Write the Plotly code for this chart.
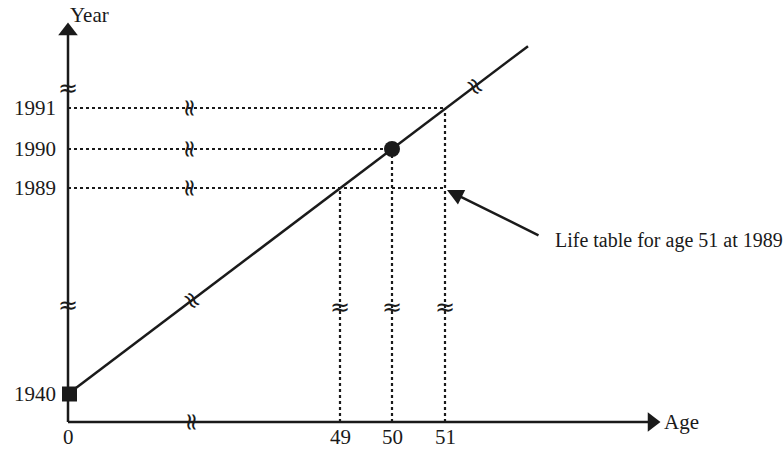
import plotly.graph_objects as go

# Schematic (broken-axis) positions in diagram units
ages = ["0", "49", "50", "51"]
age_pos = [0, 272, 324, 377]
years = ["1940", "1989", "1990", "1991"]
year_pos = [28, 234, 273, 314]
x_axis_end = 590
y_axis_end = 397
cohort_end_x = 460
note_text = "Life table for age 51 at 1989"

FONT = "Liberation Serif, Times New Roman, serif"
BLACK = "#1a1a1a"

fig = go.Figure()

# Axes
fig.add_trace(go.Scatter(x=[0, x_axis_end - 8], y=[0, 0], mode="lines",
                         line=dict(color=BLACK, width=2.5), hoverinfo="skip"))
fig.add_trace(go.Scatter(x=[0, 0], y=[0, y_axis_end - 8], mode="lines",
                         line=dict(color=BLACK, width=2.5), hoverinfo="skip"))
# Arrow heads
fig.add_trace(go.Scatter(x=[x_axis_end - 6], y=[0], mode="markers",
                         marker=dict(symbol="triangle-right", size=17, color=BLACK),
                         hoverinfo="skip"))
fig.add_trace(go.Scatter(x=[0], y=[y_axis_end - 6], mode="markers",
                         marker=dict(symbol="triangle-up", size=17, color=BLACK),
                         hoverinfo="skip"))

# Dotted guides: horizontal from year axis, vertical from age axis
y89, y90, y91 = year_pos[1], year_pos[2], year_pos[3]
a49, a50, a51 = age_pos[1], age_pos[2], age_pos[3]
h_lines = [(y91, a51), (y90, a50), (y89, a51)]
for yv, xe in h_lines:
    fig.add_trace(go.Scatter(x=[0, xe], y=[yv, yv], mode="lines",
                             line=dict(color=BLACK, width=2.2, dash="dot"), hoverinfo="skip"))
v_lines = [(a49, y89), (a50, y90), (a51, y91)]
for xv, ye in v_lines:
    fig.add_trace(go.Scatter(x=[xv, xv], y=[0, ye], mode="lines",
                             line=dict(color=BLACK, width=2.2, dash="dot"), hoverinfo="skip"))

# Cohort (life) line from birth 1940 through age 50 at 1990
slope = (y90 - year_pos[0]) / a50
fig.add_trace(go.Scatter(x=[0, cohort_end_x], y=[year_pos[0], year_pos[0] + slope * cohort_end_x],
                         mode="lines", line=dict(color=BLACK, width=2.5), hoverinfo="skip"))

# Birth square and circle
fig.add_trace(go.Scatter(x=[1.5], y=[year_pos[0]], mode="markers",
                         marker=dict(symbol="square", size=15, color=BLACK), hoverinfo="skip"))
fig.add_trace(go.Scatter(x=[a50], y=[y90], mode="markers",
                         marker=dict(symbol="circle", size=16, color=BLACK), hoverinfo="skip"))

ann = []
def txt(x, y, s, xa="center", ya="middle", size=21, angle=0, family=FONT):
    ann.append(dict(x=x, y=y, text=s, showarrow=False, xanchor=xa, yanchor=ya,
                    textangle=angle, font=dict(family=family, size=size, color=BLACK)))

# Tick labels
for lab, p in zip(years, year_pos):
    txt(-10, p, lab, xa="right")
for lab, p in zip(ages, age_pos):
    txt(p, -15, lab)
txt(21, 407, "Year")
txt(594, 0, "Age", xa="left")
txt(485, 182, note_text, xa="left", size=20)

# Break marks
brk = "≈"
bs = 24
BF = "DejaVu Sans"
txt(0, 334, brk, size=bs, family=BF)
txt(0, 117, brk, size=bs, family=BF)
txt(124, 0, brk, size=bs, angle=90, family=BF)
for yv in [y89, y90, y91]:
    txt(122, yv, brk, size=bs, angle=90, family=BF)
for xv in [a49, a50, a51]:
    txt(xv, 115, brk, size=bs, family=BF)
txt(124, year_pos[0] + slope * 124, brk, size=bs, angle=53, family=BF)
txt(407, year_pos[0] + slope * 407, brk, size=bs, angle=53, family=BF)

# Annotation arrow
ann.append(dict(x=379, y=232, ax=472, ay=186, xref="x", yref="y", axref="x", ayref="y",
                showarrow=True, arrowhead=2, arrowsize=1.3, arrowwidth=2.5,
                arrowcolor=BLACK, text=""))

fig.update_layout(
    width=784, height=449,
    margin=dict(l=0, r=0, t=0, b=0),
    paper_bgcolor="white", plot_bgcolor="white",
    showlegend=False,
    xaxis=dict(range=[-68, 716], visible=False, fixedrange=True),
    yaxis=dict(range=[-27, 422], visible=False, fixedrange=True),
    annotations=ann,
)
fig.write_html("out.html", config={"displayModeBar": False},
               post_script="document.body.style.margin='0px';")
